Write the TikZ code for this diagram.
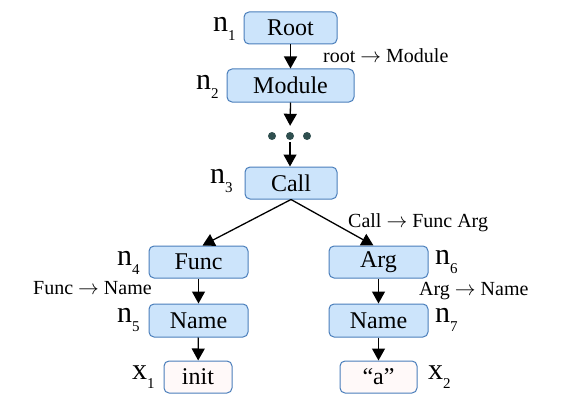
\documentclass[tikz,border=0pt]{standalone}
\usepackage{fontspec}
\setmainfont{Liberation Serif}
\usetikzlibrary{arrows.meta}
\definecolor{boxfill}{HTML}{CCE4FB}
\definecolor{boxdraw}{HTML}{4A7EBB}
\definecolor{leaffill}{HTML}{FFF9F9}
\definecolor{dotcol}{HTML}{2F4F4F}
\newcommand\nlab[2]{{\fontsize{30}{30}\selectfont #1}\raisebox{-9pt}{\fontsize{15}{15}\selectfont #2}}
\tikzset{
  tree/.style={draw=boxdraw, line width=1pt, rounded corners=5pt, fill=boxfill, inner sep=0pt, font=\rmfamily\fontsize{24}{24}\selectfont},
  leaf/.style={tree, fill=leaffill},
  rulelab/.style={anchor=base west, inner sep=0pt, font=\rmfamily\fontsize{20}{20}\selectfont},
  idlab/.style={anchor=base west, inner sep=0pt, font=\rmfamily},
  dotnode/.style={circle, fill=dotcol, minimum size=8pt, inner sep=0pt},
  conn/.style={line width=1.3pt, -{Triangle[length=12pt,width=13pt]}}
}
\begin{document}
\begin{tikzpicture}[x=1pt,y=-1pt]
\useasboundingbox (0,0) rectangle (581,412);
\node[tree, minimum width=93pt, minimum height=32pt] (root) at (290.5,28) {Root};
\node[tree, minimum width=127pt, minimum height=33pt] (module) at (290.5,85.5) {Module};
\node[dotnode] (d1) at (272,136) {};
\node[dotnode] (d2) at (290,136) {};
\node[dotnode] (d3) at (307,136) {};
\node[tree, minimum width=92pt, minimum height=32pt] (call) at (291,183) {Call};
\node[tree, minimum width=99pt, minimum height=32pt] (func) at (198.5,262) {Func};
\node[tree, minimum width=99pt, minimum height=33pt] (nameL) at (198.5,320.5) {Name};
\node[leaf, minimum width=68pt, minimum height=32pt] (init) at (198,377) {init};
\node[tree, minimum width=99pt, minimum height=32pt] (arg) at (378.5,262) {Arg};
\node[tree, minimum width=99pt, minimum height=33pt] (nameR) at (378.5,320.5) {Name};
\node[leaf, minimum width=77pt, minimum height=32pt] (lit) at (378.5,377) {``a''};

\draw[conn] (root) -- (module);
\draw[conn, shorten >=6pt] (module.south) -- (d2.north);
\draw[conn, shorten <=2pt] (d2.south) -- (d2 |- call.north);
\draw[conn] (call.south) -- ([xshift=4pt]func.north);
\draw[conn] (call.south) -- ([xshift=-5pt]arg.north);
\draw[conn] (func) -- (nameL);
\draw[conn] (nameL) -- (init);
\draw[conn] (arg) -- (nameR);
\draw[conn] (nameR) -- (lit);

\node[rulelab] (r1) at (323,63) {root $\rightarrow$ Module};
\node[rulelab] (r2) at (348,227) {Call $\rightarrow$ Func Arg};
\node[rulelab] (r3) at (33,294) {Func $\rightarrow$ Name};
\node[rulelab] (r4) at (419,295) {Arg $\rightarrow$ Name};

\node[idlab] (n1) at (213,32) {\nlab{n}{1}};
\node[idlab] (n2) at (196,89) {\nlab{n}{2}};
\node[idlab] (n3) at (210,183) {\nlab{n}{3}};
\node[idlab] (n4) at (117,265) {\nlab{n}{4}};
\node[idlab] (n5) at (117,322) {\nlab{n}{5}};
\node[idlab] (x1) at (132,379) {\nlab{x}{1}};
\node[idlab] (n6) at (435,264) {\nlab{n}{6}};
\node[idlab] (n7) at (435,322) {\nlab{n}{7}};
\node[idlab] (x2) at (428,379) {\nlab{x}{2}};
\end{tikzpicture}
\end{document}
